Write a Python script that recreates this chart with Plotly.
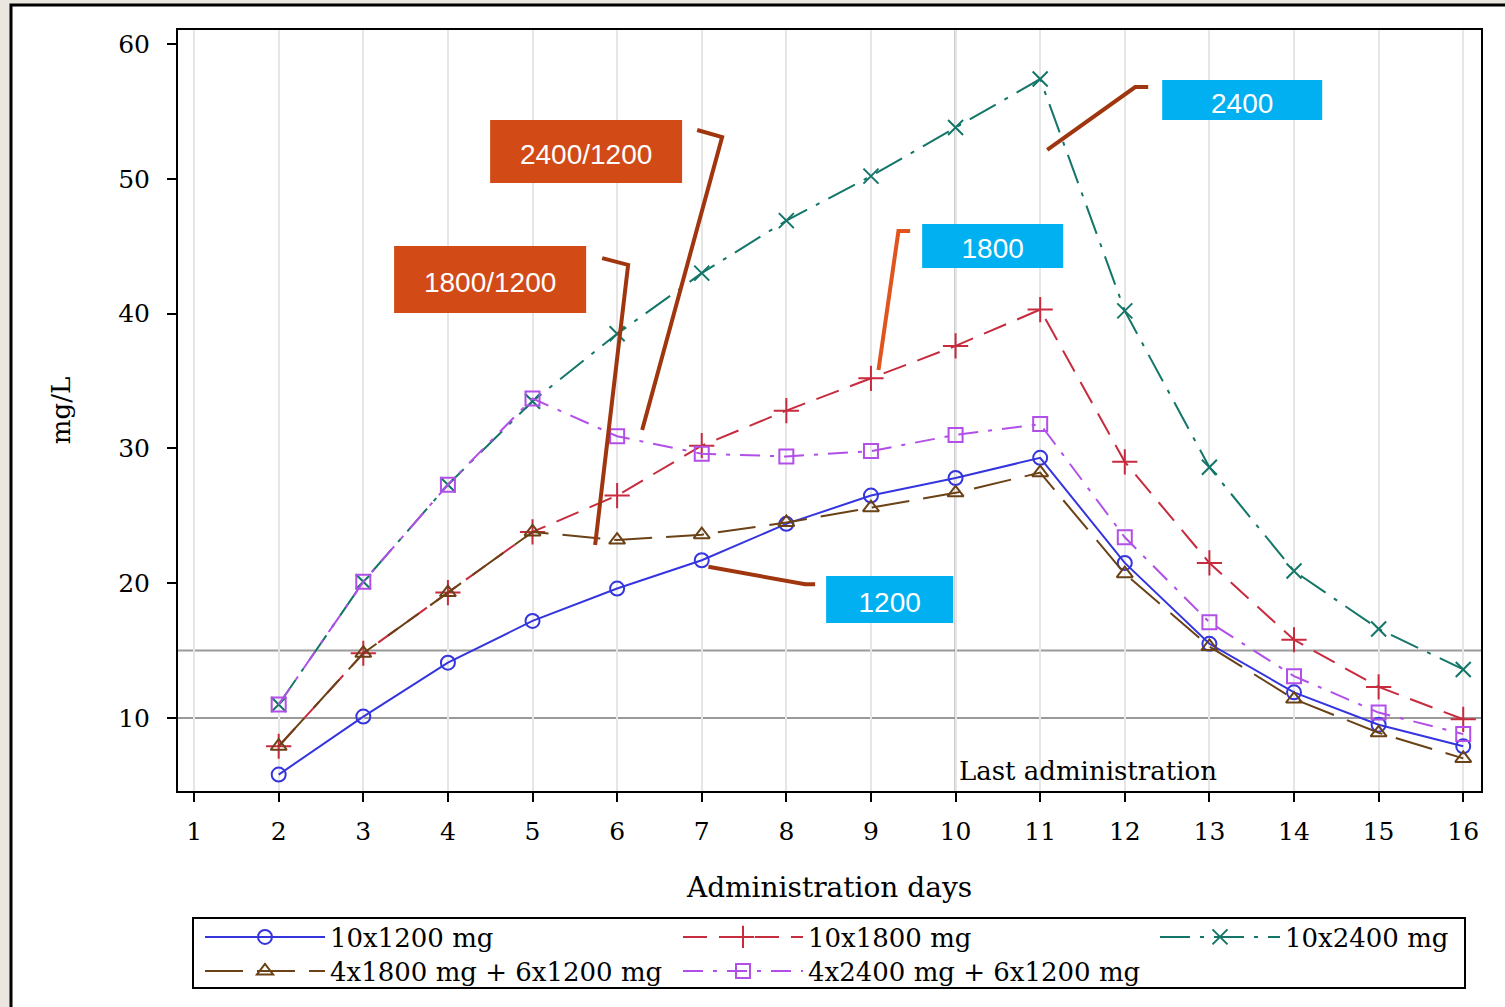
import plotly.graph_objects as go

# ---------------- data ----------------
days = [2, 3, 4, 5, 6, 7, 8, 9, 10, 11, 12, 13, 14, 15, 16]
c_10x1200 = [5.8, 10.1, 14.1, 17.2, 19.6, 21.7, 24.4, 26.5, 27.8, 29.3, 21.5, 15.5, 11.9, 9.5, 7.9]
c_10x1800 = [7.9, 14.8, 19.3, 23.8, 26.5, 30.2, 32.8, 35.2, 37.6, 40.3, 29.0, 21.5, 15.8, 12.3, 9.9]
c_10x2400 = [11.0, 20.1, 27.3, 33.5, 38.5, 43.0, 46.9, 50.2, 53.8, 57.4, 40.2, 28.6, 20.9, 16.6, 13.6]
c_4x1800_6x1200 = [7.9, 14.8, 19.3, 23.8, 23.2, 23.6, 24.5, 25.6, 26.7, 28.2, 20.7, 15.3, 11.4, 8.9, 7.0]
c_4x2400_6x1200 = [11.0, 20.1, 27.3, 33.7, 30.9, 29.6, 29.4, 29.8, 31.0, 31.8, 23.4, 17.1, 13.1, 10.4, 8.8]

series_names = ["10x1200 mg", "10x1800 mg", "10x2400 mg",
                "4x1800 mg + 6x1200 mg", "4x2400 mg + 6x1200 mg"]
x_ticks = list(range(1, 17))
y_ticks = [10, 20, 30, 40, 50, 60]
ref_levels = [10, 15]
last_admin_day = 10

# ---------------- styling ----------------
SERIF = "DejaVu Serif"
SANS = "Liberation Sans"
styles = [
    dict(color="#3535e0", dash="solid", symbol="circle-open", size=14, legend="legend"),
    dict(color="#c72b3e", dash="24px,12px", symbol="cross-thin-open", size=18, legend="legend2"),
    dict(color="#137668", dash="30px,10px,4px,10px", symbol="x-thin-open", size=15, legend="legend3"),
    dict(color="#6b4216", dash="38px,14px", symbol="triangle-up-open", size=14, legend="legend4"),
    dict(color="#b14fe8", dash="20px,10px,4px,10px", symbol="square-open", size=14, legend="legend5"),
]
values = [c_10x1200, c_10x1800, c_10x2400, c_4x1800_6x1200, c_4x2400_6x1200]

fig = go.Figure()
for name, vals, st in zip(series_names, values, styles):
    fig.add_trace(go.Scatter(
        x=days, y=vals, name=name, mode="lines+markers",
        line=dict(color=st["color"], width=2, dash=st["dash"]),
        marker=dict(symbol=st["symbol"], size=st["size"], color=st["color"],
                    line=dict(color=st["color"], width=2)),
        legend=st["legend"],
    ))

L, R, T, B = 178, 24, 30, 216
W, H = 1505, 1007
pw, ph = W - L - R, H - T - B


def px_x(p):
    return (p - L) / pw


def px_y(p):
    return (H - B - p) / ph


shapes = []
# outer white frame
shapes.append(dict(type="rect", xref="paper", yref="paper",
                   x0=px_x(11), x1=px_x(1520), y0=px_y(1020), y1=px_y(5),
                   fillcolor="white", line=dict(color="black", width=3), layer="below"))
# reference lines
for lv in ref_levels:
    shapes.append(dict(type="line", xref="paper", yref="y", x0=0, x1=1, y0=lv, y1=lv,
                       line=dict(color="#9a9a9a", width=2), layer="below"))
shapes.append(dict(type="line", xref="x", yref="paper", x0=last_admin_day, x1=last_admin_day,
                   y0=0, y1=1, line=dict(color="#8c8c8c", width=2), layer="below"))

# label boxes (x0, x1, y0, y1 in data units)
ORANGE = "#d24a16"
CYAN = "#00b0f0"
boxes = [
    ("2400/1200", ORANGE, 4.499, 6.768, 49.69, 54.36),
    ("1800/1200", ORANGE, 3.364, 5.634, 40.04, 45.01),
    ("2400", CYAN, 12.442, 14.333, 54.36, 57.33),
    ("1800", CYAN, 9.605, 11.272, 43.38, 46.65),
    ("1200", CYAN, 8.470, 9.972, 17.05, 20.53),
]
for txt, col, x0, x1, y0, y1 in boxes:
    shapes.append(dict(type="rect", xref="x", yref="y", x0=x0, x1=x1, y0=y0, y1=y1,
                       fillcolor=col, line=dict(width=0),
                       label=dict(text=txt, font=dict(family=SANS, size=28, color="white"),
                                  textposition="middle center")))

# leader lines
LEAD = "#a0360f"
leaders = [
    ([(6.946, 53.62), (7.241, 53.10), (6.296, 31.36)], LEAD),
    ([(5.823, 44.12), (6.130, 43.61), (5.740, 22.83)], LEAD),
    ([(12.277, 56.81), (12.123, 56.81), (11.083, 52.14)], LEAD),
    ([(9.463, 46.13), (9.325, 46.13), (9.089, 35.82)], "#e0541e"),
    ([(8.340, 19.92), (8.222, 19.92), (7.079, 21.22)], LEAD),
]
for pts, col in leaders:
    path = "M" + " L".join(f"{a},{b}" for a, b in pts)
    shapes.append(dict(type="path", xref="x", yref="y", path=path,
                       line=dict(color=col, width=4)))

# legend frame
shapes.append(dict(type="rect", xref="paper", yref="paper",
                   x0=px_x(193), x1=px_x(1465), y0=px_y(988), y1=px_y(918),
                   fillcolor="rgba(0,0,0,0)", line=dict(color="black", width=2)))

legend_common = dict(orientation="v", yanchor="middle", xanchor="left",
                     bgcolor="rgba(0,0,0,0)", borderwidth=0,
                     itemwidth=120, font=dict(family=SERIF, size=26, color="black"),
                     traceorder="normal", itemclick=False, itemdoubleclick=False)
row1, row2 = px_y(937), px_y(971)
col1, col2, col3 = px_x(200), px_x(678), px_x(1155)

fig.update_layout(
    width=W, height=H,
    margin=dict(l=L, r=R, t=T, b=B, autoexpand=False),
    paper_bgcolor="#ebe7e0",
    plot_bgcolor="white",
    font=dict(family=SERIF, size=25, color="black"),
    showlegend=True,
    legend=dict(legend_common, x=col1, y=row1),
    legend2=dict(legend_common, x=col2, y=row1),
    legend3=dict(legend_common, x=col3, y=row1),
    legend4=dict(legend_common, x=col1, y=row2),
    legend5=dict(legend_common, x=col2, y=row2),
    shapes=shapes,
    annotations=[dict(x=last_admin_day, y=6.07, xref="x", yref="y", text="Last administration",
                      showarrow=False, xanchor="left", yanchor="middle", xshift=1,
                      font=dict(family=SERIF, size=26, color="black"))],
    xaxis=dict(range=[0.81, 16.21], tickvals=x_ticks, ticktext=[str(v) for v in x_ticks],
               showgrid=True, gridcolor="#e6e6e6", gridwidth=2, zeroline=False,
               showline=True, linecolor="black", linewidth=2, mirror=True,
               ticks="outside", ticklen=9, tickwidth=2, tickcolor="black",
               ticklabelstandoff=8, tickfont=dict(family=SERIF, size=25),
               title=dict(text="Administration days", font=dict(family=SERIF, size=28),
                          standoff=32)),
    yaxis=dict(range=[4.58, 61.04], tickvals=y_ticks, ticktext=[str(v) for v in y_ticks],
               showgrid=False, zeroline=False,
               showline=True, linecolor="black", linewidth=2, mirror=True,
               ticks="outside", ticklen=9, tickwidth=2, tickcolor="black",
               ticklabelstandoff=12, tickfont=dict(family=SERIF, size=25),
               title=dict(text="mg/L", font=dict(family=SERIF, size=26), standoff=40)),
)

fig.write_html("out.html", config={"displayModeBar": False},
               post_script="document.body.style.margin='0';")
